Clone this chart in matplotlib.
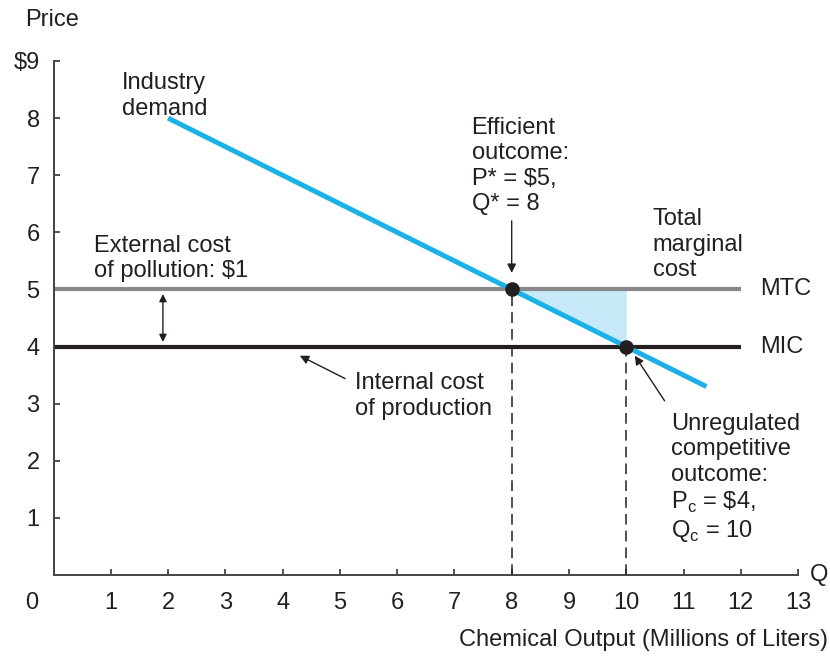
import numpy as np
import matplotlib.pyplot as plt

plt.rcParams['font.family'] = ['Liberation Sans', 'DejaVu Sans']
plt.rcParams['mathtext.fontset'] = 'custom'
plt.rcParams['mathtext.rm'] = 'Liberation Sans'

# demand curve end points (quantity, price)
q_demand = [2.0, 11.4]
p_demand = [8.0, 3.3]

# marginal cost levels
q_cost = [0.0, 12.0]
mtc = 5.0
mic = 4.0

# equilibria
q_star, p_star = 8, 5
q_c, p_c = 10, 4

x_ticks = list(range(1, 14))
y_ticks = list(range(1, 10))
y_labels = ['1', '2', '3', '4', '5', '6', '7', '8', '$9']

ink = '#231f20'
blue = '#1cb1e6'
gray = '#88888b'
fill = '#c6e8f7'
fs = 17

fig = plt.figure(figsize=(8.3, 6.58), dpi=100)
ax = fig.add_axes([0.0645, 0.1261, 0.897, 0.7812])

# deadweight triangle between demand and MTC
ax.fill_between([q_star, q_c], [p_star, p_c], [mtc, mtc], color=fill, lw=0, zorder=1)

ax.plot(q_cost, [mtc, mtc], color=gray, lw=3, solid_capstyle='butt', zorder=2)
ax.plot(q_cost, [mic, mic], color=ink, lw=3, solid_capstyle='butt', zorder=2)
ax.plot(q_demand, p_demand, color=blue, lw=3.6, solid_capstyle='butt', zorder=3)

ax.plot([q_star, q_star], [0, p_star], color=ink, lw=1.1, dashes=(7, 4), zorder=2)
ax.plot([q_c, q_c], [0, p_c], color=ink, lw=1.1, dashes=(7, 4), zorder=2)
ax.plot([q_star, q_c], [p_star, p_c], 'o', color=ink, ms=9.5, zorder=5, clip_on=False)

ax.set_xlim(0, 13)
ax.set_ylim(0, 9)
for s in ['top', 'right']:
    ax.spines[s].set_visible(False)
for s in ['left', 'bottom']:
    ax.spines[s].set_color('#444444')
    ax.spines[s].set_linewidth(1.4)
ax.set_xticks(x_ticks)
ax.set_xticklabels([str(t) for t in x_ticks])
ax.set_yticks(y_ticks)
ax.set_yticklabels(y_labels)
ax.tick_params(direction='in', length=4, width=1.3, color='#444444',
               labelsize=fs, labelcolor=ink)
ax.tick_params(axis='x', pad=12)
ax.tick_params(axis='y', pad=10)

ax.text(-0.38, -0.49, '0', fontsize=fs, color=ink, ha='center', va='center', clip_on=False)
ax.text(13.2, 0, 'Q', fontsize=fs, color=ink, ha='left', va='center', clip_on=False)
fig.text(0.03, 0.97, 'Price', fontsize=fs, color=ink, ha='left', va='center')
fig.text(0.998, 0.027, 'Chemical Output (Millions of Liters)', fontsize=fs,
         color=ink, ha='right', va='center')

ls = 1.2
ax.text(1.2, 8.8, 'Industry\ndemand', fontsize=fs, color=ink, va='top', linespacing=ls)
ax.text(7.3, 8.02, 'Efficient\noutcome:\nP* = $5,\nQ* = 8', fontsize=fs, color=ink,
        va='top', linespacing=ls)
ax.text(10.46, 6.42, 'Total\nmarginal\ncost', fontsize=fs, color=ink, va='top', linespacing=ls)
ax.text(0.71, 5.96, 'External cost\nof pollution: $1', fontsize=fs, color=ink,
        va='top', linespacing=ls)
ax.text(5.26, 3.55, 'Internal cost\nof production', fontsize=fs, color=ink,
        va='top', linespacing=ls)
ax.text(10.79, 2.84, 'Unregulated\ncompetitive\noutcome:\n'
        'P$_\\mathregular{c}$ = \\$4,\nQ$_\\mathregular{c}$ = 10',
        fontsize=fs, color=ink, va='top', linespacing=ls)
ax.text(12.33, mtc, 'MTC', fontsize=fs, color=ink, va='center', clip_on=False)
ax.text(12.33, mic, 'MIC', fontsize=fs, color=ink, va='center', clip_on=False)

arrow = dict(arrowstyle='-|>', color=ink, lw=1.0, mutation_scale=13, shrinkA=0, shrinkB=0)
ax.annotate('', xy=(q_star, 5.29), xytext=(q_star, 6.2), arrowprops=arrow)
ax.annotate('', xy=(4.3, 3.84), xytext=(5.09, 3.44), arrowprops=arrow)
ax.annotate('', xy=(10.15, 3.84), xytext=(10.67, 3.05), arrowprops=arrow)
ax.annotate('', xy=(1.91, 4.08), xytext=(1.91, 4.92),
            arrowprops=dict(arrowstyle='<|-|>', color=ink, lw=1.0, mutation_scale=11,
                            shrinkA=0, shrinkB=0))

fig.savefig('out.png', dpi=100)
